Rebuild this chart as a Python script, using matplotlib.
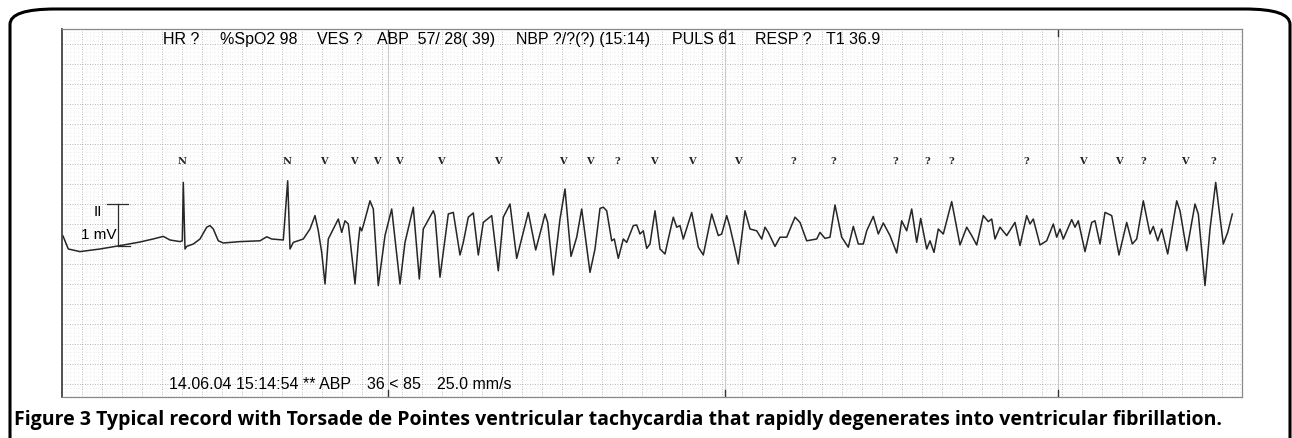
import matplotlib
matplotlib.use("Agg")
import matplotlib.pyplot as plt
from matplotlib.patches import FancyBboxPatch
from matplotlib.ticker import MultipleLocator

# --- ECG lead II trace (time in s, amplitude in mV) ---
t_sec = [0.01, 0.063, 0.18, 0.38, 0.58, 0.78, 0.91, 1.013, 1.08, 1.18, 1.203, 1.213, 1.23, 1.247,
         1.313, 1.38, 1.447, 1.48, 1.513, 1.563, 1.613, 1.78, 1.98, 2.047, 2.097, 2.213, 2.257,
         2.28, 2.313, 2.413, 2.48, 2.53, 2.563, 2.597, 2.63, 2.663, 2.713, 2.763, 2.797, 2.83,
         2.863, 2.93, 2.963, 2.98, 2.997, 3.013, 3.08, 3.113, 3.163, 3.23, 3.297, 3.38, 3.43,
         3.513, 3.573, 3.613, 3.713, 3.73, 3.78, 3.863, 3.913, 3.98, 4.013, 4.063, 4.113, 4.163,
         4.213, 4.297, 4.363, 4.413, 4.48, 4.547, 4.613, 4.663, 4.737, 4.797, 4.83, 4.857, 4.913,
         4.98, 5.03, 5.09, 5.147, 5.197, 5.28, 5.33, 5.38, 5.413, 5.447, 5.497, 5.523, 5.563,
         5.613, 5.647, 5.713, 5.747, 5.78, 5.813, 5.847, 5.88, 5.93, 5.98, 6.03, 6.063, 6.113,
         6.147, 6.18, 6.213, 6.297, 6.363, 6.413, 6.497, 6.563, 6.597, 6.647, 6.68, 6.73, 6.763,
         6.83, 6.88, 6.947, 6.997, 7.03, 7.063, 7.13, 7.18, 7.247, 7.33, 7.38, 7.447, 7.547,
         7.58, 7.63, 7.68, 7.73, 7.797, 7.863, 7.913, 7.963, 8.013, 8.047, 8.113, 8.163, 8.213,
         8.28, 8.347, 8.397, 8.447, 8.497, 8.547, 8.587, 8.647, 8.68, 8.72, 8.763, 8.813, 8.897,
         8.98, 9.047, 9.097, 9.147, 9.213, 9.263, 9.297, 9.33, 9.38, 9.447, 9.53, 9.58, 9.647,
         9.68, 9.713, 9.78, 9.847, 9.913, 9.947, 9.98, 10.013, 10.097, 10.13, 10.163, 10.23,
         10.297, 10.33, 10.38, 10.43, 10.497, 10.57, 10.647, 10.703, 10.747, 10.813, 10.88,
         10.913, 10.957, 10.997, 11.057, 11.147, 11.18, 11.247, 11.33, 11.363, 11.43, 11.48,
         11.537, 11.613, 11.657, 11.703]
v_mv = [0.20, -0.125, -0.19, -0.125, -0.04, 0.05, 0.125, 0.19, 0.10, 0.06, 0.08, 1.54, -0.125, -0.06,
        0.0, 0.125, 0.42, 0.46, 0.375, 0.08, 0.025, 0.06, 0.08, 0.18, 0.125, 0.10, 1.58,
        -0.125, 0.04, 0.125, 0.375, 0.71, 0.33, -0.21, -1.0, 0.125, 0.375, 0.625, 0.29, 0.58,
        0.5, -1.0, 0.04, 0.42, 0.33, 0.46, 1.08, 0.875, -1.04, 0.21, 0.875, -1.0, 0.04,
        0.92, -0.875, 0.375, 0.83, 0.71, -0.83, 0.75, 0.79, -0.275, 0.04, 0.67, 0.775, -0.275,
        0.54, 0.71, -0.67, 0.67, 1.0, -0.36, 0.29, 0.79, -0.15, 0.42, 0.75, 0.54, -0.775,
        0.625, 1.375, -0.31, 0.17, 0.875, -0.71, -0.125, 0.89, 0.92, 0.83, 0.08, 0.125, -0.36,
        0.125, 0.04, 0.46, 0.475, 0.25, 0.33, -0.11, 0.0, 0.83, -0.125, -0.25, 0.125, 0.67,
        0.42, 0.46, 0.125, 0.79, -0.08, -0.275, 0.75, 0.21, 0.25, 0.71, 0.42, -0.125, -0.5,
        0.83, 0.375, 0.33, 0.125, 0.42, 0.29, -0.06, 0.17, 0.17, 0.67, 0.54, 0.08, 0.125,
        0.29, 0.14, 0.17, 0.975, 0.17, -0.08, 0.44, 0.0, 0.0, 0.33, 0.69, 0.25, 0.525,
        0.21, -0.225, 0.58, 0.33, 0.875, 0.04, 0.64, -0.125, 0.08, -0.21, 0.375, 0.25, 1.06,
        -0.025, 0.42, 0.21, -0.025, 0.71, 0.56, 0.625, 0.125, 0.42, 0.21, 0.54, -0.04, 0.71,
        0.5, 0.625, -0.025, 0.08, 0.5, 0.17, 0.375, 0.125, 0.61, 0.42, 0.58, -0.19,
        0.54, 0.58, 0.0, 0.79, 0.71, -0.275, 0.54, 0.0, 0.125, 1.08, 0.25,
        0.44, 0.08, 0.375, -0.25, 1.08, 0.83, -0.17, 1.0, 0.75, -1.04, 0.375,
        1.54, 0.0, 0.29, 0.75]

# --- beat labels from the monitor ---
beat_t = [1.20, 2.25, 2.62, 2.92, 3.15, 3.37, 3.79, 4.36, 5.01, 5.28, 5.55, 5.92, 6.30, 6.76,
          7.31, 7.71, 8.33, 8.65, 8.89, 9.64, 10.21, 10.57, 10.81, 11.23, 11.51]
beat_lbl = ['N', 'N', 'V', 'V', 'V', 'V', 'V', 'V', 'V', 'V', '?', 'V', 'V', 'V',
            '?', '?', '?', '?', '?', '?', 'V', 'V', '?', 'V', '?']

# --- monitor readouts ---
header_fields = ["HR ?", "%SpO2 98", "VES ?", "ABP  57/ 28( 39)", "NBP ?/?(?) (15:14)",
                 "PULS 61", "RESP ?", "T1 36.9"]
footer_fields = ["14.06.04 15:14:54 ** ABP", "36 < 85", "25.0 mm/s"]
caption = ("Figure 3 Typical record with Torsade de Pointes ventricular tachycardia "
           "that rapidly degenerates into ventricular fibrillation.")

# layout: where each readout starts (s along the strip) and the 3 s paper marks
header_at = [1.01, 1.58, 2.55, 3.15, 4.54, 6.10, 6.93, 7.64]
footer_at = [1.07, 3.05, 3.75]
sec_marks = [3.26, 6.63, 9.96]

W, H = 1292, 439
fig = plt.figure(figsize=(W / 100, H / 100), dpi=100)

# rounded outer frame (open at the bottom edge of the image)
frame = FancyBboxPatch((10 / W, -0.2), 1280 / W, 1.2 - 10 / H,
                       boxstyle="round,pad=0,rounding_size=0.035",
                       transform=fig.transFigure, fill=False, lw=2.2, ec='black')
fig.patches.append(frame)

ax = fig.add_axes([62 / W, 41 / H, 1180 / W, 368 / H])
ax.set_xlim(0, 11.8)
ax.set_ylim(-3.825, 5.375)

# paper grid: 25 mm/s, 10 mm/mV
ax.xaxis.set_major_locator(MultipleLocator(0.2))
ax.yaxis.set_major_locator(MultipleLocator(0.5))
ax.xaxis.set_minor_locator(MultipleLocator(0.04))
ax.yaxis.set_minor_locator(MultipleLocator(0.1))
ax.grid(which='major', color='#a0a0a0', lw=0.6, ls=(0, (1, 2)))
ax.grid(which='minor', color='#e2e2e2', lw=0.5, ls=(0, (1, 3)))
ax.tick_params(which='both', length=0, labelbottom=False, labelleft=False)
ax.set_axisbelow(True)
for s in ax.spines.values():
    s.set_color('#8a8a8a')
    s.set_linewidth(0.9)
ax.spines['left'].set_color('#444444')
ax.spines['left'].set_linewidth(1.3)

for m in sec_marks:
    ax.axvline(m, color='#c0c0c0', lw=0.6)
    ax.plot([m, m], [5.375, 5.2], color='#333333', lw=1.0)
    ax.plot([m, m], [-3.825, -3.65], color='#333333', lw=1.0)

ax.plot(t_sec, v_mv, color='#262626', lw=1.1, solid_joinstyle='round')

# 1 mV calibration bracket
ax.plot([0.45, 0.66], [1.0, 1.0], color='#2a2a2a', lw=0.9)
ax.plot([0.56, 0.56], [1.0, -0.05], color='#2a2a2a', lw=0.9)
ax.plot([0.56, 0.68], [-0.05, -0.05], color='#2a2a2a', lw=0.9)
ax.text(0.36, 0.82, "II", ha='center', va='center', fontsize=11, family='Liberation Sans')
ax.text(0.37, 0.25, "1 mV", ha='center', va='center', fontsize=11, family='Liberation Sans')

for bt, bl in zip(beat_t, beat_lbl):
    ax.text(bt, 2.075, bl, ha='center', va='center', fontsize=7,
            family='DejaVu Serif', fontweight='bold', color='#222222')

for txt, x in zip(header_fields, header_at):
    ax.text(x, 5.125, txt, ha='left', va='center', fontsize=11.5, family='Liberation Sans')
for txt, x in zip(footer_fields, footer_at):
    ax.text(x, -3.5, txt, ha='left', va='center', fontsize=11.5, family='Liberation Sans')

fig.text(14 / W, 19 / H, caption, ha='left', va='center', fontsize=14,
         fontweight='bold', family='Open Sans')

fig.savefig("out.png", dpi=100)
